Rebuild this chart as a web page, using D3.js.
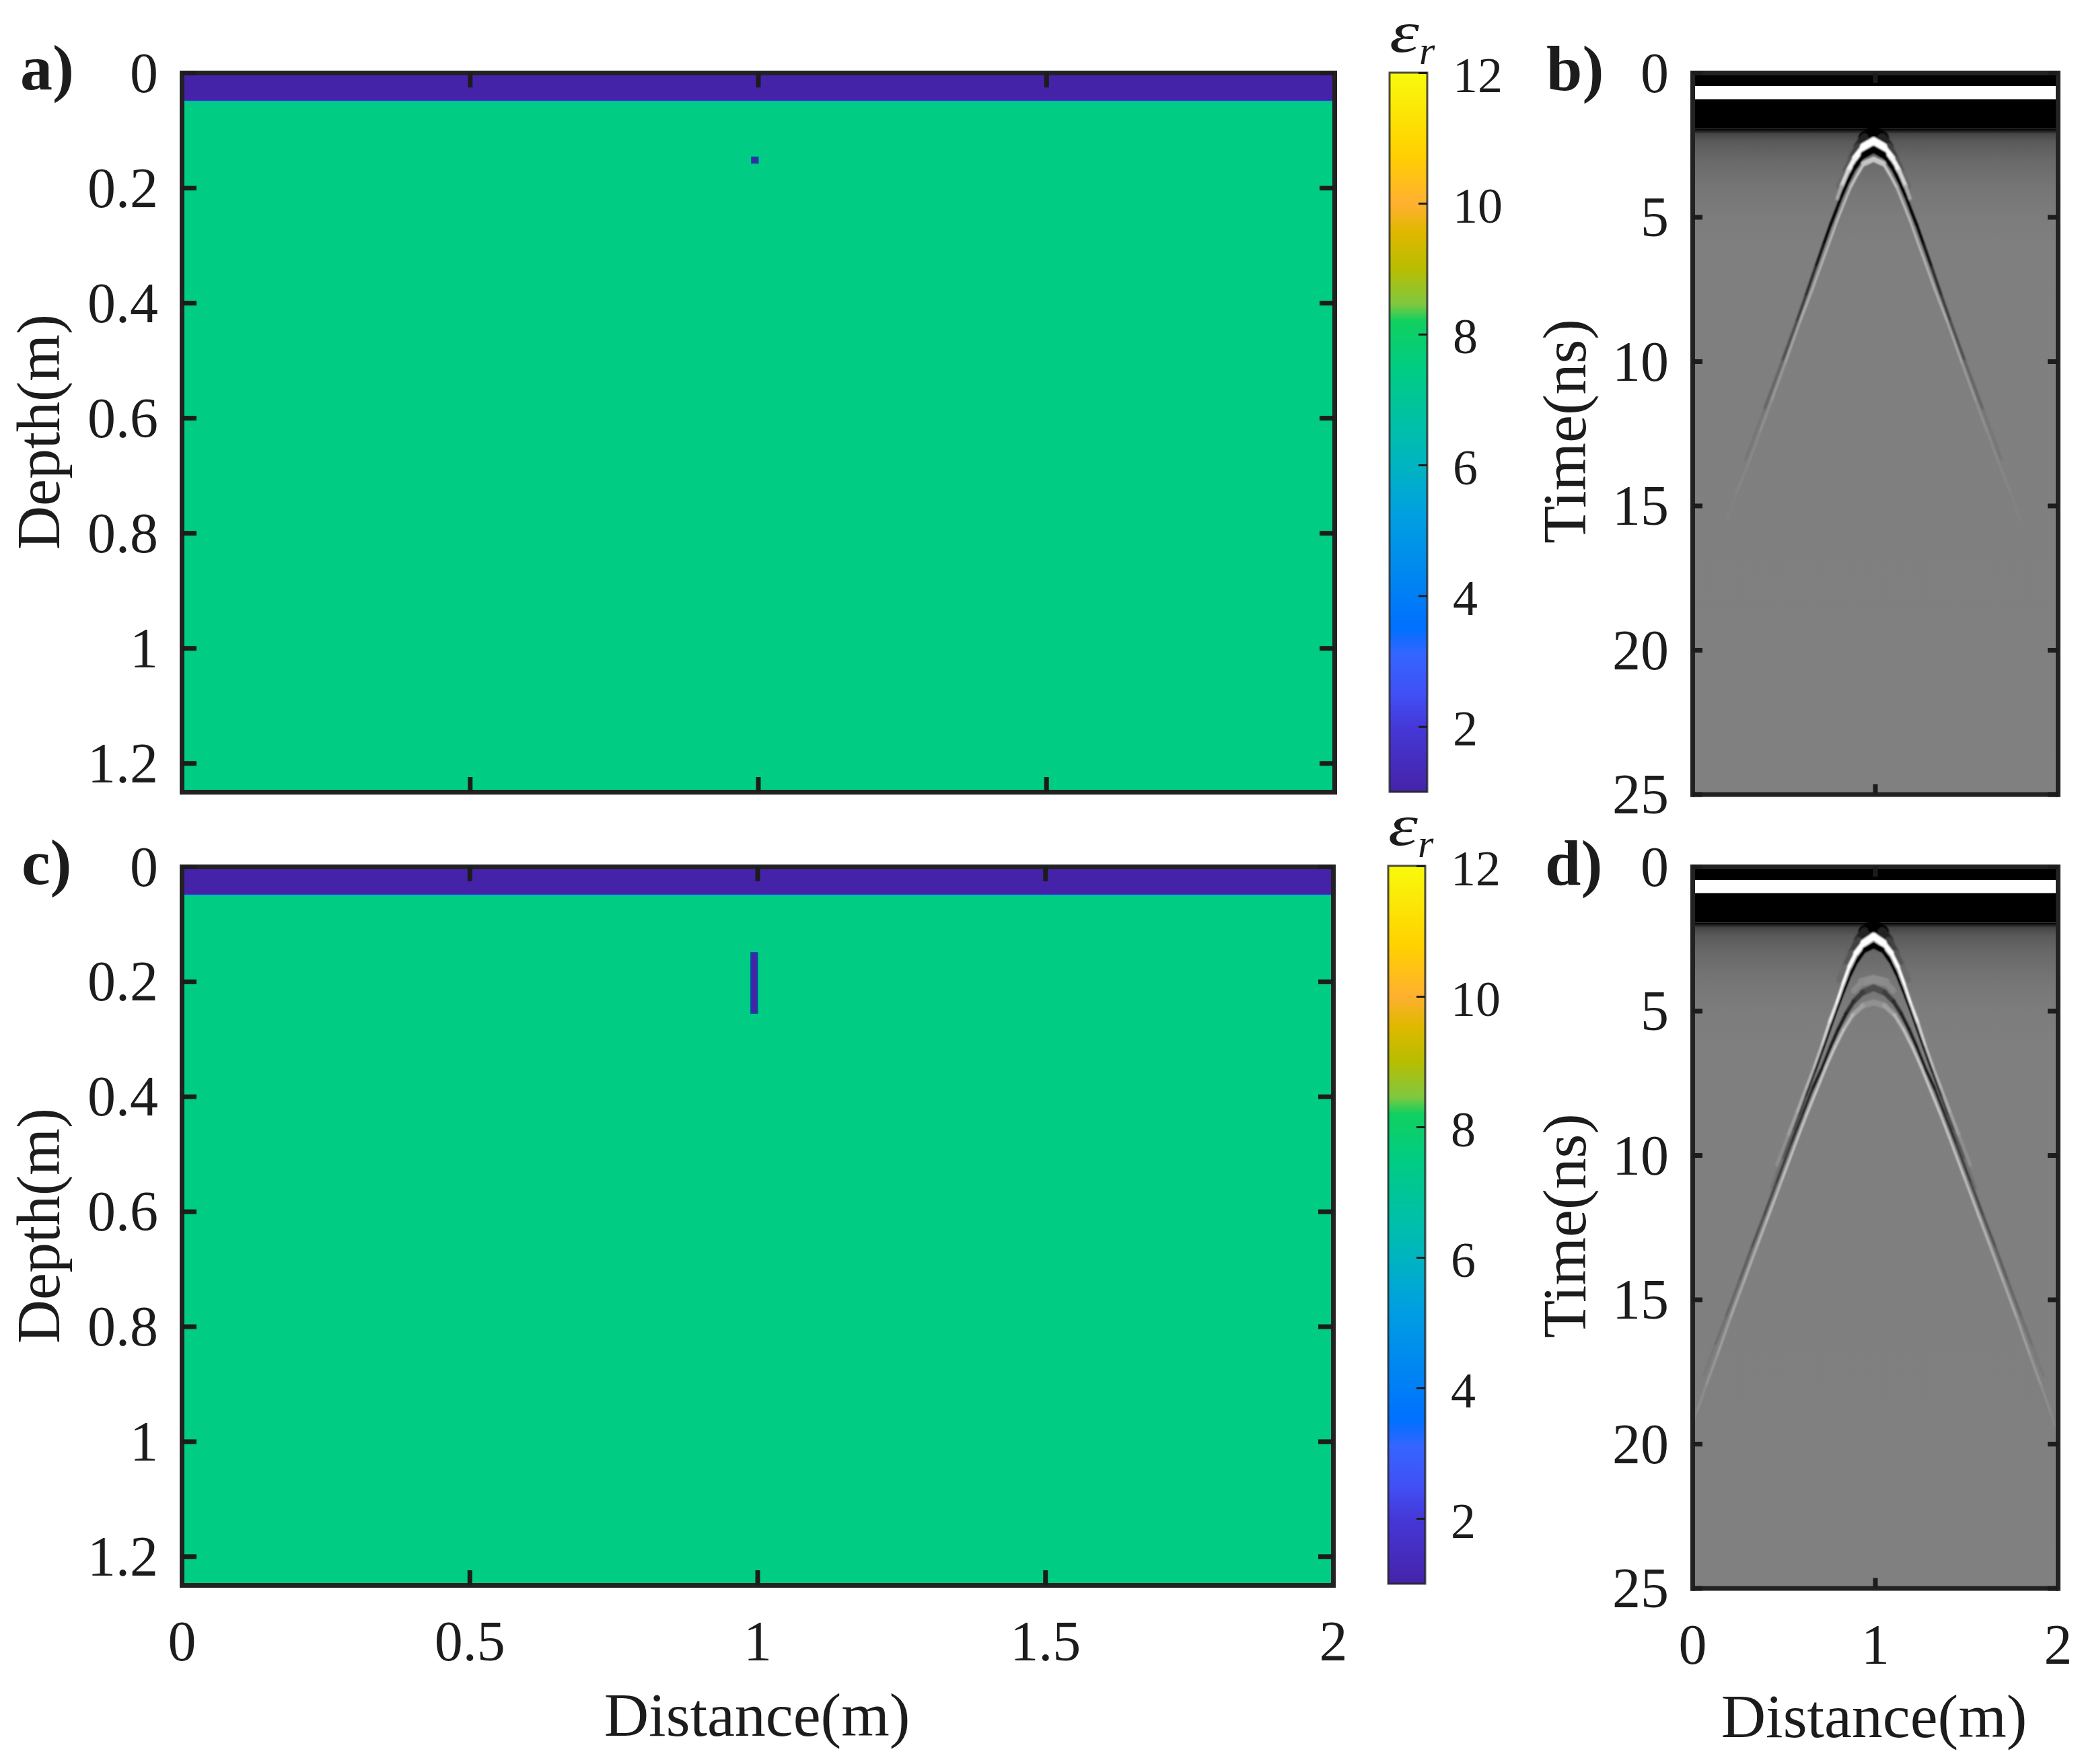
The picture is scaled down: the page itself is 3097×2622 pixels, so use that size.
<!DOCTYPE html>
<html>
<head>
<meta charset="utf-8">
<title>Permittivity models and radargrams</title>
<script src="https://cdn.jsdelivr.net/npm/d3@7"></script>
<style>
  html, body { margin: 0; background: #fff; }
  text { font-family: "Liberation Serif", serif; fill: #1c1c1c; }
</style>
</head>
<body>
<svg id="chart" width="3097" height="2622" xmlns="http://www.w3.org/2000/svg"></svg>
<script>
// ---- axis ticks
const depthTicks = [0, 0.2, 0.4, 0.6, 0.8, 1, 1.2]
const distanceTicks = [0, 0.5, 1, 1.5, 2]
const timeTicks = [0, 5, 10, 15, 20, 25]
const shortDistanceTicks = [0, 1, 2]
const colorTicks = [2, 4, 6, 8, 10, 12]

// ---- colour bar
const colorStops = [1, 2, 2.5, 3.1, 3.5, 4.07, 5.25, 6, 6.6, 7.45, 8.2, 8.46, 9, 9.56, 10, 10.75, 12]
const colorValues = ['#4523a8', '#4538d8', '#4050f5', '#3565ff', '#0070ff', '#0080f5', '#00a0e0', '#00b4c0', '#00c0a8',
  '#00cc84', '#10d060', '#80c840', '#b8bd00', '#e0b800', '#ffb030', '#ffd000', '#f8fa0c']

// ---- models: permittivity layers (depth in m)
const layerTops = [0, 0.05]
const layerBottoms = [0.05, 1.25]
const layerEps = [1, 7.45]
const voidEps = 1
const voidLeft = 0.989
const voidRight = 1.0
const voidTopA = 0.147
const voidBottomA = 0.157
const voidTopC = 0.15
const voidBottomC = 0.255

// ---- radargram direct wave bands (ns) and fade below them
const bandTops = [0, 0.47, 0.92]
const bandBottoms = [0.47, 0.92, 1.95]
const bandTones = ['#000', '#fff', '#000']
const fadeTimes = [1.95, 2.0, 2.12, 2.4, 3, 4, 5, 6, 25]
const fadeGrays = [0, 20, 70, 90, 105, 118, 124, 127, 128]

// ---- radargram reflections: offset from the apex (m), time (ns), strength 0-1
const apexDistance = 0.992

const haloOffset = [0, 0.047, 0.083, 0.12, 0.157, 0.188]
const haloTime = [2.07, 2.26, 2.57, 3.0, 3.5, 3.93]
const haloAmp = [1, 0.9, 0.6, 0.4, 0.25, 0.08]

const bWhiteUpOffset = [0, 0.053, 0.102, 0.139, 0.176, 0.2]
const bWhiteUpTime = [2.38, 2.57, 2.96, 3.39, 3.93, 4.36]
const bWhiteUpAmp = [1, 1, 1, 0.85, 0.5, 0.2]

const bBlackOffset = [0, 0.053, 0.102, 0.139, 0.176, 0.206, 0.237, 0.274, 0.317, 0.372, 0.421, 0.5, 0.6, 0.7]
const bBlackTime = [2.65, 2.84, 3.27, 3.74, 4.28, 4.79, 5.29, 5.95, 6.73, 7.74, 8.63, 10, 11.7, 13.4]
const bBlackAmp = [1, 1, 1, 1, 1, 1, 1, 0.95, 0.8, 0.6, 0.5, 0.3, 0.12, 0.03]

const bWhiteLowOffset = [0, 0.053, 0.09, 0.126, 0.163, 0.2, 0.237, 0.286, 0.335, 0.403, 0.484, 0.56, 0.624, 0.687, 0.751, 0.802]
const bWhiteLowTime = [3.0, 3.15, 3.54, 3.97, 4.55, 5.14, 5.8, 6.65, 7.51, 8.63, 10.07, 11.39, 12.48, 13.57, 14.58, 15.51]
const bWhiteLowAmp = [0.55, 0.55, 0.55, 0.5, 0.5, 0.5, 0.5, 0.45, 0.42, 0.38, 0.28, 0.17, 0.11, 0.07, 0.04, 0.01]

const dWhiteUpOffset = [0, 0.053, 0.096, 0.133, 0.169, 0.206, 0.243, 0.286, 0.329, 0.372, 0.421, 0.47, 0.53]
const dWhiteUpTime = [2.42, 2.65, 3.0, 3.47, 4.09, 4.79, 5.41, 6.26, 7.04, 7.74, 8.55, 9.35, 10.35]
const dWhiteUpAmp = [1, 1, 1, 1, 1, 0.9, 0.75, 0.6, 0.5, 0.42, 0.32, 0.2, 0.05]

const dBlackOffset = [0, 0.047, 0.09, 0.126, 0.163, 0.2, 0.231, 0.274, 0.323, 0.372, 0.409, 0.44, 0.5, 0.56]
const dBlackTime = [2.73, 2.88, 3.27, 3.74, 4.32, 4.94, 5.49, 6.26, 7.12, 7.97, 8.63, 9.15, 10.15, 11.15]
const dBlackAmp = [1, 1, 1, 1, 1, 1, 1, 1, 0.85, 0.65, 0.5, 0.4, 0.2, 0.05]

const dPaleOffset = [0, 0.065, 0.108]
const dPaleTime = [3.9, 4.01, 4.3]
const dPaleAmp = [0.1, 0.1, 0.06]

const dDarkOffset = [0, 0.059, 0.108, 0.151, 0.194, 0.237, 0.286, 0.335, 0.39, 0.452, 0.532, 0.6, 0.667, 0.734, 0.808, 0.869, 0.93]
const dDarkTime = [4.2, 4.36, 4.67, 5.1, 5.64, 6.26, 7.04, 7.7, 8.6, 9.6, 10.95, 12.1, 13.2, 14.35, 15.6, 16.6, 17.65]
const dDarkAmp = [0.35, 0.45, 0.6, 0.75, 0.85, 0.85, 0.8, 0.75, 0.7, 0.62, 0.5, 0.42, 0.34, 0.26, 0.18, 0.1, 0.03]

const dLightOffset = [0, 0.059, 0.114, 0.163, 0.212, 0.261, 0.311, 0.366, 0.415, 0.501, 0.587, 0.636, 0.71, 0.783, 0.857, 0.918, 0.968, 0.992]
const dLightTime = [4.71, 4.82, 5.14, 5.64, 6.26, 6.96, 7.74, 8.59, 9.4, 10.85, 12.3, 13.12, 14.38, 15.62, 16.95, 18.0, 18.9, 19.35]
const dLightAmp = [0.12, 0.15, 0.35, 0.5, 0.55, 0.6, 0.6, 0.6, 0.6, 0.55, 0.48, 0.42, 0.38, 0.32, 0.25, 0.16, 0.08, 0.04]

const svg = d3.select('#chart')
const defs = svg.append('defs')
defs.append('filter').attr('id', 'soft')
  .attr('x', '-5%').attr('y', '-5%').attr('width', '110%').attr('height', '110%')
  .append('feGaussianBlur').attr('stdDeviation', 1.2)

const colorScale = d3.scaleLinear().domain(colorStops).range(colorValues)

/**
 * Draw the frame and the inward ticks of a panel, labels go on the left and bottom only
 *
 * @param {*} g the panel group
 * @param {*} xScale the horizontal scale
 * @param {*} yScale the vertical scale
 * @param {Array} xTicks the horizontal tick values
 * @param {Array} yTicks the vertical tick values
 * @param {boolean} showX whether the bottom labels are drawn
 * @param {number} tickLength the length of the ticks
 */
function drawFrame (g, xScale, yScale, xTicks, yTicks, showX, tickLength) {
  const height = yScale.range()[1]
  const width = xScale.range()[1]
  const noLabel = () => ''

  const parts = [
    g.append('g').attr('transform', 'translate(0,' + height + ')')
      .call(d3.axisBottom(xScale).tickValues(xTicks).tickSize(-tickLength).tickSizeOuter(0).tickPadding(0)
        .tickFormat(showX ? d => d : noLabel)),
    g.append('g')
      .call(d3.axisTop(xScale).tickValues(xTicks).tickSize(-tickLength).tickSizeOuter(0).tickFormat(noLabel)),
    g.append('g')
      .call(d3.axisLeft(yScale).tickValues(yTicks).tickSize(-tickLength).tickSizeOuter(0).tickPadding(35)
        .tickFormat(d => d)),
    g.append('g').attr('transform', 'translate(' + width + ',0)')
      .call(d3.axisRight(yScale).tickValues(yTicks).tickSize(-tickLength).tickSizeOuter(0).tickFormat(noLabel))
  ]

  parts.forEach(part => {
    part.attr('font-family', null).attr('font-size', null)
    part.select('.domain').attr('stroke', '#222').attr('stroke-width', 7).attr('stroke-linecap', 'square')
    part.selectAll('.tick line').attr('stroke', '#1c1c1c').attr('stroke-width', 7)
    part.selectAll('text').style('font-size', '84px')
  })
  parts[0].selectAll('text').attr('y', 112).attr('dy', 0)
  parts[2].selectAll('text').attr('dy', 28)
}

/**
 * Draw one permittivity model
 *
 * @param {number} left the left position of the panel
 * @param {number} top the top position of the panel
 * @param {number} width the width of the panel
 * @param {number} height the height of the panel
 * @param {number} voidTop the top of the void
 * @param {number} voidBottom the bottom of the void
 * @param {boolean} showX whether the distance labels are drawn
 */
function drawModel (left, top, width, height, voidTop, voidBottom, showX) {
  const g = svg.append('g').attr('transform', 'translate(' + left + ',' + top + ')')
  const xScale = d3.scaleLinear().domain([0, 2]).range([0, width])
  const yScale = d3.scaleLinear().domain([0, 1.25]).range([0, height])

  g.selectAll('rect.layer')
    .data(layerEps)
    .join('rect')
    .attr('class', 'layer')
    .attr('x', 0)
    .attr('width', width)
    .attr('y', (d, i) => yScale(layerTops[i]))
    .attr('height', (d, i) => yScale(layerBottoms[i]) - yScale(layerTops[i]))
    .attr('fill', d => colorScale(d))

  g.append('line')
    .attr('x1', 0).attr('x2', width)
    .attr('y1', yScale(layerBottoms[0])).attr('y2', yScale(layerBottoms[0]))
    .attr('stroke', colorScale(6)).attr('stroke-width', 2)

  g.append('rect')
    .attr('x', xScale(voidLeft))
    .attr('width', xScale(voidRight) - xScale(voidLeft))
    .attr('y', yScale(voidTop))
    .attr('height', yScale(voidBottom) - yScale(voidTop))
    .attr('fill', colorScale(voidEps))
    .attr('stroke', '#0a4aa0')
    .attr('stroke-width', 2)

  drawFrame(g, xScale, yScale, distanceTicks, depthTicks, showX, 22)
}

/**
 * Draw one colour bar with its title
 *
 * @param {number} left the left position of the bar
 * @param {number} top the top position of the bar
 * @param {number} width the width of the bar
 * @param {number} height the height of the bar
 */
function drawColorBar (left, top, width, height) {
  const g = svg.append('g').attr('transform', 'translate(' + left + ',' + top + ')')
  const yScale = d3.scaleLinear().domain([1, 12]).range([height, 0])
  const levels = d3.range(height).map(p => yScale.invert(p + 0.5))

  g.selectAll('rect')
    .data(levels)
    .join('rect')
    .attr('x', 0)
    .attr('width', width)
    .attr('y', (d, i) => i)
    .attr('height', 1.5)
    .attr('fill', d => colorScale(d))

  g.append('rect')
    .attr('width', width).attr('height', height)
    .attr('fill', 'none').attr('stroke', '#222').attr('stroke-opacity', 0.8).attr('stroke-width', 3)

  const axis = g.append('g').attr('transform', 'translate(' + width + ',0)')
    .call(d3.axisRight(yScale).tickValues(colorTicks).tickSize(-13).tickSizeOuter(0).tickPadding(38))
  axis.attr('font-family', null).attr('font-size', null)
  axis.select('.domain').remove()
  axis.selectAll('.tick line').attr('stroke', '#1c1c1c').attr('stroke-width', 3)
  axis.selectAll('text').style('font-size', '74px').attr('dy', 28)

  g.append('text').attr('x', 0).attr('y', -31)
    .attr('textLength', 44).attr('lengthAdjust', 'spacingAndGlyphs')
    .style('font-style', 'italic').style('font-size', '86px')
    .text('ε')
  g.append('text').attr('x', 44).attr('y', -13)
    .style('font-style', 'italic').style('font-size', '60px')
    .text('r')
}

/**
 * Draw one reflection, both arms, with its width following the slope of the curve
 *
 * @param {*} g the group of the reflections
 * @param {*} xScale the horizontal scale
 * @param {*} yScale the vertical scale
 * @param {Array} offsets the offsets from the apex
 * @param {Array} times the times read for these offsets
 * @param {Array} amps the strength read for these offsets
 * @param {string} tone the colour at full strength
 * @param {number} pulse the thickness of the pulse in ns
 */
function drawReflection (g, xScale, yScale, offsets, times, amps, tone, pulse) {
  const pxPerNs = yScale(1) - yScale(0)
  const toneScale = d3.scaleLinear().domain([0, 1]).range(['#808080', tone])
  const segments = []
  const sides = [-1, 1]
  sides.forEach(side => {
    d3.range(offsets.length - 1).forEach(i => {
      segments.push({
        x1: xScale(apexDistance + side * offsets[i]),
        x2: xScale(apexDistance + side * offsets[i + 1]),
        y1: yScale(times[i]),
        y2: yScale(times[i + 1]),
        amp: (amps[i] + amps[i + 1]) / 2
      })
    })
  })

  const path = d3.line().curve(d3.curveLinear)
  g.append('g').selectAll('path')
    .data(segments)
    .join('path')
    .attr('d', d => path([[d.x1, d.y1], [d.x2, d.y2]]))
    .attr('fill', 'none')
    .attr('stroke', d => toneScale(d.amp))
    .attr('stroke-linecap', 'round')
    .attr('stroke-width', d => {
      const cos = Math.abs(d.x2 - d.x1) / Math.hypot(d.x2 - d.x1, d.y2 - d.y1)
      return pulse * pxPerNs * cos
    })
}

/**
 * Draw the base of a radargram and return what is needed to add the reflections
 *
 * @param {string} id the id used for the clip and the gradient
 * @param {number} left the left position of the panel
 * @param {number} top the top position of the panel
 * @param {number} width the width of the panel
 * @param {number} height the height of the panel
 * @param {boolean} showX whether the distance labels are drawn
 * @returns {object} the panel group, the reflection group and the scales
 */
function drawRadargram (id, left, top, width, height, showX) {
  const g = svg.append('g').attr('transform', 'translate(' + left + ',' + top + ')')
  const xScale = d3.scaleLinear().domain([0, 2]).range([0, width])
  const yScale = d3.scaleLinear().domain([0, 25]).range([0, height])

  const gradient = defs.append('linearGradient').attr('id', id + '-fade')
    .attr('gradientUnits', 'userSpaceOnUse')
    .attr('x1', 0).attr('x2', 0)
    .attr('y1', yScale(fadeTimes[0])).attr('y2', yScale(25))
  gradient.selectAll('stop')
    .data(fadeTimes)
    .join('stop')
    .attr('offset', d => (d - fadeTimes[0]) / (25 - fadeTimes[0]))
    .attr('stop-color', (d, i) => d3.rgb(fadeGrays[i], fadeGrays[i], fadeGrays[i]))

  defs.append('clipPath').attr('id', id + '-clip')
    .append('rect').attr('width', width).attr('height', height)

  const plot = g.append('g').attr('clip-path', 'url(#' + id + '-clip)')
  plot.append('rect')
    .attr('y', yScale(fadeTimes[0]))
    .attr('width', width)
    .attr('height', height - yScale(fadeTimes[0]))
    .attr('fill', 'url(#' + id + '-fade)')

  const reflections = plot.append('g').attr('filter', 'url(#soft)')

  plot.selectAll('rect.band')
    .data(bandTones)
    .join('rect')
    .attr('class', 'band')
    .attr('width', width)
    .attr('y', (d, i) => yScale(bandTops[i]))
    .attr('height', (d, i) => yScale(bandBottoms[i]) - yScale(bandTops[i]))
    .attr('fill', d => d)

  drawFrame(g, xScale, yScale, shortDistanceTicks, timeTicks, showX, 15)
  return { reflections, xScale, yScale }
}

/**
 * Add a text
 *
 * @param {number} x the horizontal position
 * @param {number} y the baseline
 * @param {string} content the text
 * @param {number} size the font size
 * @param {boolean} bold whether the text is bold
 * @param {number} rotate the rotation
 */
function addText (x, y, content, size, bold, rotate) {
  svg.append('text')
    .attr('transform', 'translate(' + x + ',' + y + ') rotate(' + rotate + ')')
    .attr('text-anchor', bold ? 'start' : 'middle')
    .style('font-size', size + 'px')
    .style('font-weight', bold ? 'bold' : 'normal')
    .text(content)
}

drawModel(270, 108, 1713, 1069, voidTopA, voidBottomA, false)
drawModel(270, 1288, 1711, 1068, voidTopC, voidBottomC, true)
drawColorBar(2065, 108, 56, 1069)
drawColorBar(2063, 1287, 55, 1067)

const panelB = drawRadargram('b', 2515, 108, 543, 1072.5, false)
const panelD = drawRadargram('d', 2515, 1288, 543, 1072.5, true)

drawReflection(panelB.reflections, panelB.xScale, panelB.yScale, haloOffset, haloTime, haloAmp, '#000', 0.55)
drawReflection(panelB.reflections, panelB.xScale, panelB.yScale, bWhiteUpOffset, bWhiteUpTime, bWhiteUpAmp, '#fff', 0.32)
drawReflection(panelB.reflections, panelB.xScale, panelB.yScale, bWhiteLowOffset, bWhiteLowTime, bWhiteLowAmp, '#fff', 0.2)
drawReflection(panelB.reflections, panelB.xScale, panelB.yScale, bBlackOffset, bBlackTime, bBlackAmp, '#000', 0.28)

drawReflection(panelD.reflections, panelD.xScale, panelD.yScale, haloOffset, haloTime, haloAmp, '#000', 0.55)
drawReflection(panelD.reflections, panelD.xScale, panelD.yScale, dPaleOffset, dPaleTime, dPaleAmp, '#fff', 0.3)
drawReflection(panelD.reflections, panelD.xScale, panelD.yScale, dLightOffset, dLightTime, dLightAmp, '#fff', 0.22)
drawReflection(panelD.reflections, panelD.xScale, panelD.yScale, dDarkOffset, dDarkTime, dDarkAmp, '#000', 0.24)
drawReflection(panelD.reflections, panelD.xScale, panelD.yScale, dWhiteUpOffset, dWhiteUpTime, dWhiteUpAmp, '#fff', 0.3)
drawReflection(panelD.reflections, panelD.xScale, panelD.yScale, dBlackOffset, dBlackTime, dBlackAmp, '#000', 0.22)

addText(30, 133, 'a)', 96, true, 0)
addText(2298, 134, 'b)', 96, true, 0)
addText(32, 1314, 'c)', 96, true, 0)
addText(2296, 1315, 'd)', 96, true, 0)

addText(88, 642, 'Depth(m)', 90, false, -90)
addText(88, 1822, 'Depth(m)', 90, false, -90)
addText(2356, 641, 'Time(ns)', 92, false, -90)
addText(2356, 1822, 'Time(ns)', 92, false, -90)
addText(1125, 2580, 'Distance(m)', 92, false, 0)
addText(2785, 2582, 'Distance(m)', 92, false, 0)
</script>
</body>
</html>
